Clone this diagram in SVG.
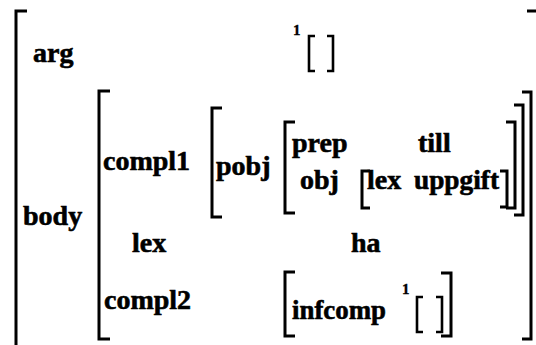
<svg xmlns="http://www.w3.org/2000/svg" width="536" height="345" viewBox="0 0 536 345">
<style>
.t{font-family:"Liberation Serif","Times New Roman",serif;font-weight:bold;font-size:28px;fill:#000;stroke:#000;stroke-width:0.6}
.s{font-family:"Liberation Serif","Times New Roman",serif;font-weight:bold;font-size:15px;fill:#000;stroke:#000;stroke-width:0.4}
.b{fill:none;stroke:#000;stroke-width:3}
.sb{fill:none;stroke:#000;stroke-width:2.6}
</style>
<rect width="536" height="345" fill="#fff"/>
<g id="outer">
<path class="b" d="M27,11 H16 V350"/>
<path class="b" d="M527,11 H540 V350"/>
<text class="t" x="33" y="62">arg</text>
<text class="t" x="23" y="225">body</text>
</g>
<g id="arg-value">
<text class="s" x="293" y="35">1</text>
<path class="sb" d="M315,36 H309 V71 H315"/>
<path class="sb" d="M327,36 H333 V71 H327"/>
</g>
<g id="body">
<path class="b" d="M110,91 H99 V339 H110"/>
<path class="b" d="M522,92 H531 V339 H522"/>
<text class="t" x="103" y="170">compl1</text>
<text class="t" x="132" y="252">lex</text>
<text class="t" x="104" y="309">compl2</text>
<text class="t" x="351" y="252">ha</text>
</g>
<g id="compl1">
<path class="b" d="M222,108 H212 V217 H222"/>
<path class="b" d="M514,105 H523 V215 H514"/>
<text class="t" x="216" y="175">pobj</text>
</g>
<g id="pobj">
<path class="b" d="M295,122 H285 V213 H295"/>
<path class="b" d="M506,122 H515 V208 H506"/>
<text class="t" x="292" y="152">prep</text>
<text class="t" x="418" y="152">till</text>
<text class="t" x="300" y="189">obj</text>
</g>
<g id="obj">
<path class="b" d="M370,171 H362 V208 H370"/>
<path class="b" d="M500,171 H507 V207 H500"/>
<text class="t" x="367" y="189">lex</text>
<text class="t" x="414" y="189" textLength="85" lengthAdjust="spacingAndGlyphs">uppgift</text>
</g>
<g id="compl2">
<path class="b" d="M295,272 H285 V336 H295"/>
<path class="b" d="M441,273 H451 V336 H441"/>
<text class="t" x="292" y="319" textLength="94" lengthAdjust="spacingAndGlyphs">infcomp</text>
<text class="s" x="402" y="294">1</text>
<path class="sb" d="M423,297 H417 V332 H423"/>
<path class="sb" d="M436,297 H442 V332 H436"/>
</g>
<g id="connectors"/>
</svg>
